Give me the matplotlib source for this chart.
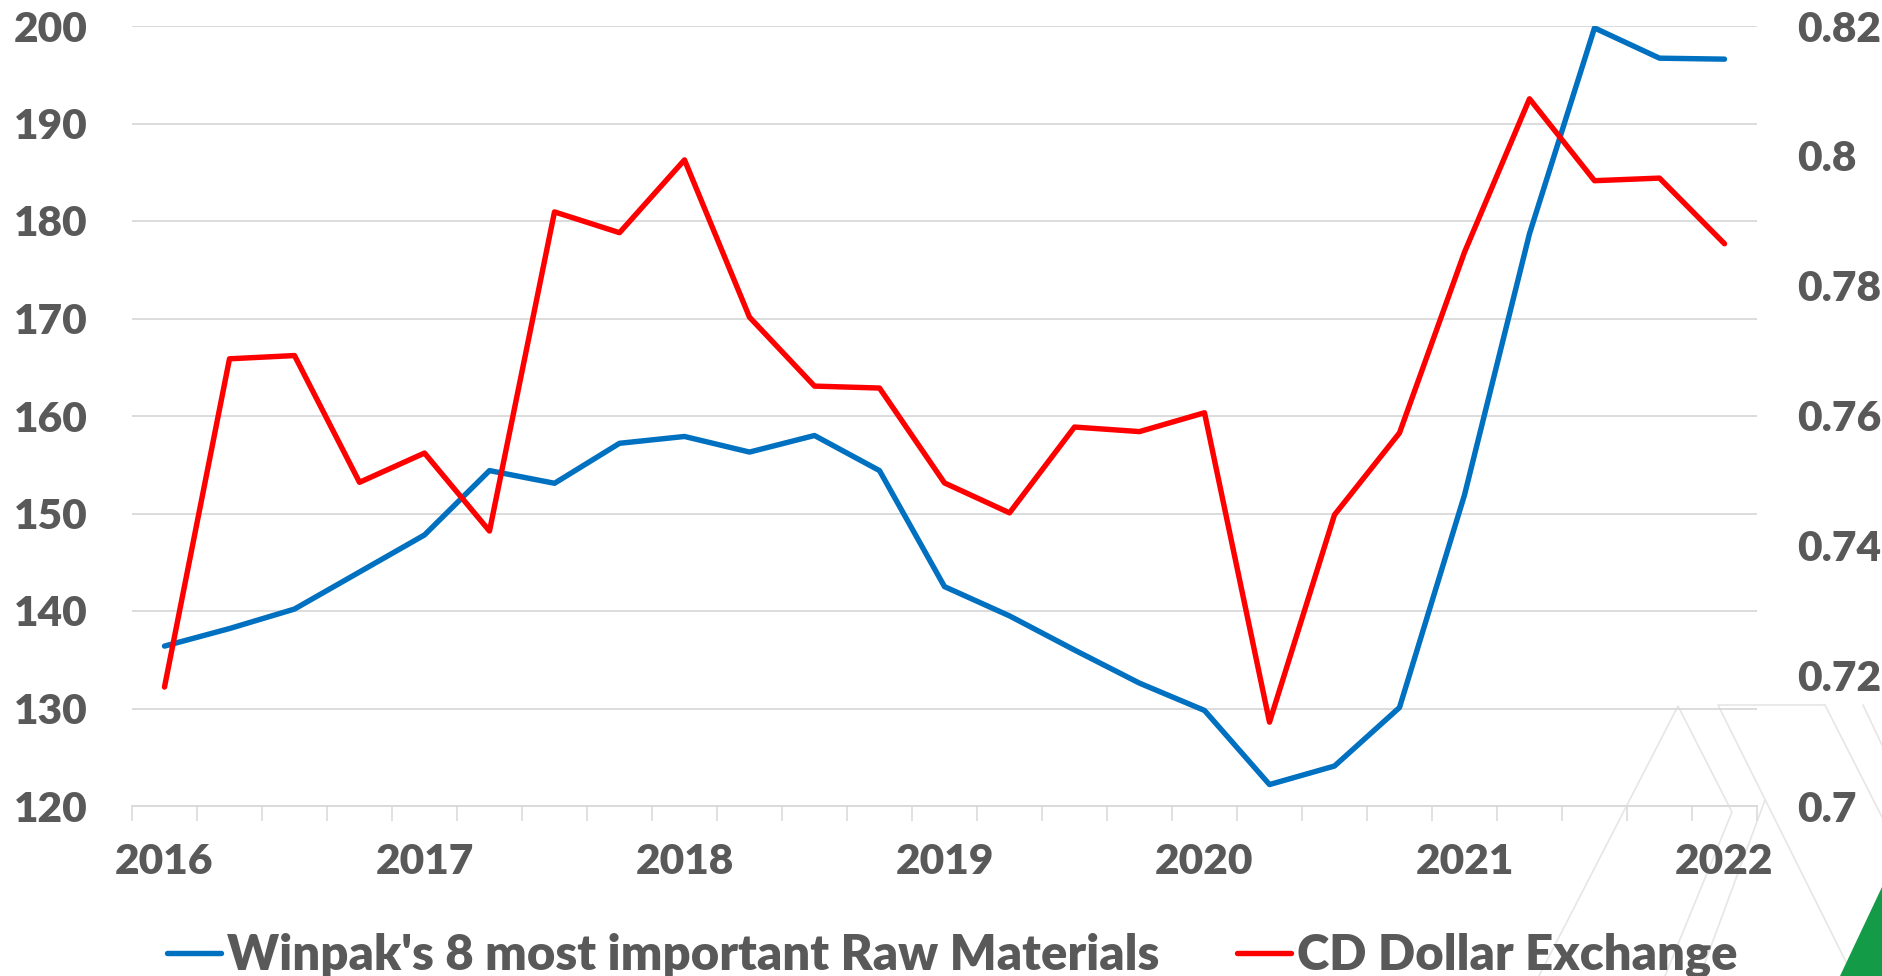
import numpy as np
import matplotlib
matplotlib.use("Agg")
import matplotlib.pyplot as plt
from matplotlib.lines import Line2D
from matplotlib.patches import Polygon

# ---------------------------------------------------------------------------
# Data: quarterly, 2016 Q1 .. 2022 Q1
# ---------------------------------------------------------------------------
raw_materials = [136.4, 138.2, 140.2, 144.0, 147.8, 154.4, 153.1, 157.2, 157.9,
                 156.3, 158.0, 154.4, 142.5, 139.5, 136.0, 132.6, 129.8, 122.2,
                 124.1, 130.1, 151.9, 178.7, 199.8, 196.7, 196.6]
cad_usd = [0.7183, 0.7688, 0.7693, 0.7498, 0.7543, 0.7423, 0.7914, 0.7882,
           0.7994, 0.7752, 0.7646, 0.7643, 0.7497, 0.7451, 0.7583, 0.7576,
           0.7605, 0.7129, 0.7448, 0.7574, 0.7852, 0.8088, 0.7962, 0.7966,
           0.7865]
year_labels = ["2016", "2017", "2018", "2019", "2020", "2021", "2022"]
left_ticks = [120, 130, 140, 150, 160, 170, 180, 190, 200]
right_ticks = [0.70, 0.72, 0.74, 0.76, 0.78, 0.80, 0.82]
series_names = ["Winpak's 8 most important Raw Materials", "CD Dollar Exchange"]

BLUE = "#0070C0"
RED = "#FF0000"
GRID = "#D9D9D9"
TEXT = "#595959"
FONT = "Lato"
WEIGHT = "heavy"

W, H = 1882, 976
fig = plt.figure(figsize=(W / 100, H / 100), dpi=100)
fig.patch.set_facecolor("white")

# plot area in pixels: left, right, top, bottom
L, R, T, B = 132, 1757, 26, 806
ax = fig.add_axes([L / W, 1 - B / H, (R - L) / W, (B - T) / H])
ax2 = ax.twinx()
ax.patch.set_alpha(0)
ax2.patch.set_alpha(0)

n = len(raw_materials)
x = np.arange(n) + 0.5

ax.plot(x, raw_materials, color=BLUE, lw=3.9, solid_joinstyle="round",
        solid_capstyle="round", zorder=3)
ax2.plot(x, cad_usd, color=RED, lw=3.9, solid_joinstyle="round",
         solid_capstyle="round", zorder=3)

ax.set_xlim(0, n)
ax.set_ylim(left_ticks[0], left_ticks[-1])
ax2.set_ylim(right_ticks[0], right_ticks[-1])

# category boundaries carry the tick marks, labels sit on every 4th category
ax.set_xticks(np.arange(n + 1))
ax.set_xticklabels([])
ax.tick_params(axis="x", which="major", length=11, width=1.1, color=GRID)
ax.set_xticks(x[::4], minor=True)
ax.set_xticklabels(year_labels, minor=True)
ax.tick_params(axis="x", which="minor", length=0, pad=27)

ax.set_yticks(left_ticks)
ax.set_yticklabels([str(v) for v in left_ticks])
ax.tick_params(axis="y", length=0, pad=32)
ax2.set_yticks(right_ticks)
ax2.set_yticklabels([f"{v:g}" for v in right_ticks])
ax2.tick_params(axis="y", length=0, pad=29)

for a in (ax, ax2):
    for lab in a.get_xticklabels(minor=True) + a.get_yticklabels():
        lab.set_fontfamily(FONT)
        lab.set_fontweight(WEIGHT)
        lab.set_fontsize(30.5)
        lab.set_color(TEXT)
    for s in a.spines.values():
        s.set_visible(False)

ax.yaxis.grid(True, color=GRID, lw=1.3, zorder=0)
ax.set_axisbelow(True)
ax.spines["bottom"].set_visible(True)
ax.spines["bottom"].set_color(GRID)
ax.spines["bottom"].set_linewidth(1.3)

# legend below the axis
handles = [Line2D([], [], color=BLUE, lw=3.9, solid_capstyle="round"),
           Line2D([], [], color=RED, lw=3.9, solid_capstyle="round")]
leg = fig.legend(handles, series_names, loc="center", ncol=2,
                 bbox_to_anchor=(0.5059, 0.021), frameon=False,
                 handlelength=1.1, handletextpad=0.12, columnspacing=1.58,
                 prop={"family": FONT, "weight": WEIGHT, "size": 35.3})
for t in leg.get_texts():
    t.set_color(TEXT)

# faint chevron logo and green corner in the bottom right
def px(pts):
    return [(px_x / W, 1 - px_y / H) for px_x, px_y in pts]

for pts in [[(1539, 976), (1678, 706), (1732, 812), (1665, 976)],
            [(1825, 705), (1718, 705), (1853, 976)],
            [(1700, 976), (1765, 800)],
            [(1825, 705), (1882, 817)],
            [(1863, 705), (1882, 745)]]:
    xs, ys = zip(*px(pts))
    fig.add_artist(Line2D(xs, ys, color="#E6E6E6", lw=1.2, zorder=-1))

fig.add_artist(Polygon(px([(1840, 976), (1882, 887), (1882, 976)]),
                       closed=True, facecolor="#149B48", edgecolor="none"))

fig.savefig("out.png", dpi=100)
